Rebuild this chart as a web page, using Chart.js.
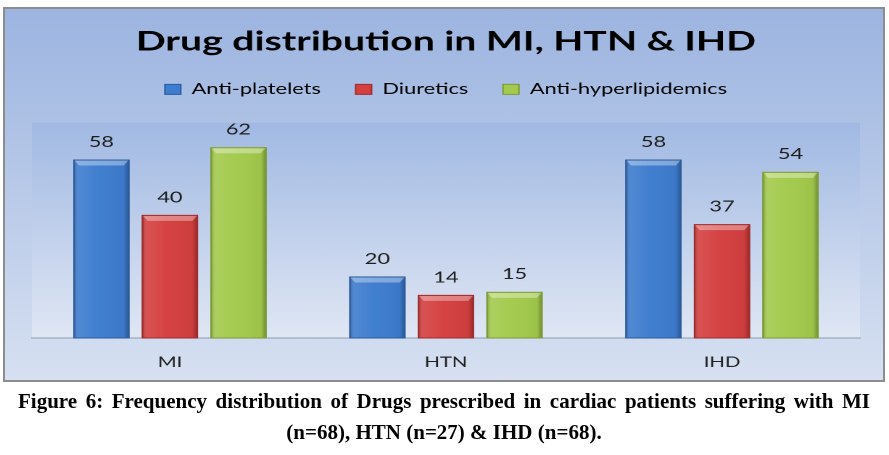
<!DOCTYPE html>
<html>
<head>
<meta charset="utf-8">
<script src="https://cdn.jsdelivr.net/npm/chart.js@4.4.1/dist/chart.umd.min.js"></script>
<style>
  html, body { margin: 0; padding: 0; background: #ffffff; }
  body { width: 889px; height: 455px; position: relative; overflow: hidden; }
  #box {
    position: absolute; left: 3px; top: 7px; width: 878px; height: 371px;
    border: 2px solid #8d8d8d;
    background: linear-gradient(to bottom, #9cb4e0 0%, #d6e0f1 100%);
  }
  #wrap {
    position: absolute; left: 0; top: 0; width: 613px; height: 390px;
    transform: scaleX(1.4502); transform-origin: 0 0;
  }
  .cap {
    position: absolute; left: 18px; width: 852px;
    font-family: "Liberation Serif", "Times New Roman", serif;
    font-weight: bold; font-size: 21px; color: #000; white-space: nowrap;
  }
  #cap1 { top: 389px; text-align: justify; text-align-last: justify; }
  #cap2 { top: 420px; text-align: center; }
</style>
</head>
<body>
<div id="box"></div>
<div id="wrap"><canvas id="c"></canvas></div>
<div class="cap" id="cap1">Figure 6: Frequency distribution of Drugs prescribed in cardiac patients suffering with MI</div>
<div class="cap" id="cap2">(n=68), HTN (n=27) &amp; IHD (n=68).</div>
<script>
const categories = ["MI", "HTN", "IHD"];
const seriesNames = ["Anti-platelets", "Diuretics", "Anti-hyperlipidemics"];
const antiPlatelets = [58, 20, 58];
const diuretics = [40, 14, 37];
const antiHyperlipidemics = [62, 15, 54];
const yMax = 70;

const fills = ["#3d7cce", "#d43f3f", "#a3ca4c"];
const edges = ["#2c5c9c", "#a02c2c", "#7b9c34"];

const bgPlugin = {
  id: 'bg',
  afterInit(chart) {
    const lg = chart.legend;
    if (lg && !lg._extraFit) {
      const orig = lg.fit.bind(lg);
      lg.fit = function () { orig(); this.height += 15.7; };
      lg._extraFit = true;
    }
  },
  beforeDraw(chart) {
    const { ctx, chartArea: a } = chart;
    const g = ctx.createLinearGradient(0, a.top, 0, a.bottom);
    g.addColorStop(0, '#a1b9e3');
    g.addColorStop(1, '#e0e7f4');
    ctx.save();
    ctx.fillStyle = g;
    ctx.fillRect(a.left, a.top, a.right - a.left, a.bottom - a.top);
    ctx.restore();
  }
};

const bevelPlugin = {
  id: 'bevel',
  afterDatasetsDraw(chart) {
    const ctx = chart.ctx;
    ctx.save();
    chart.data.datasets.forEach((ds, di) => {
      const meta = chart.getDatasetMeta(di);
      meta.data.forEach((el, i) => {
        const p = el.getProps(['x', 'y', 'base', 'width'], true);
        const l = p.x - p.width / 2, r = p.x + p.width / 2, t = p.y, b = p.base;
        const g = ctx.createLinearGradient(l, 0, r, 0);
        g.addColorStop(0, 'rgba(0,0,0,0.28)');
        g.addColorStop(0.09, 'rgba(255,255,255,0.10)');
        g.addColorStop(0.45, 'rgba(255,255,255,0.02)');
        g.addColorStop(0.9, 'rgba(0,0,0,0.04)');
        g.addColorStop(1, 'rgba(0,0,0,0.32)');
        ctx.fillStyle = g;
        ctx.fillRect(l, t, r - l, b - t);
        const bx = 4, by = 6;
        ctx.beginPath();
        ctx.moveTo(l, t); ctx.lineTo(r, t); ctx.lineTo(r - bx, t + by); ctx.lineTo(l + bx, t + by); ctx.closePath();
        ctx.fillStyle = 'rgba(255,255,255,0.35)';
        ctx.fill();
        ctx.strokeStyle = edges[di];
        ctx.lineWidth = 1;
        ctx.strokeRect(l + 0.5, t + 0.5, r - l - 1, b - t - 0.5);
        ctx.fillStyle = '#1e1e1e';
        ctx.font = '15px Lato';
        ctx.textAlign = 'center';
        ctx.textBaseline = 'middle';
        ctx.fillText(String(ds.data[i]), p.x, t - 17.5);
      });
    });
    ctx.restore();
  }
};

new Chart(document.getElementById('c'), {
  type: 'bar',
  data: {
    labels: categories,
    datasets: [
      { label: seriesNames[0], data: antiPlatelets, backgroundColor: fills[0] },
      { label: seriesNames[1], data: diuretics, backgroundColor: fills[1] },
      { label: seriesNames[2], data: antiHyperlipidemics, backgroundColor: fills[2] }
    ]
  },
  options: {
    responsive: true,
    maintainAspectRatio: false,
    animation: false,
    devicePixelRatio: 2,
    layout: { padding: { left: 22, right: 20, top: 0, bottom: 3.2 } },
    datasets: { bar: { categoryPercentage: 0.745, barPercentage: 0.82 } },
    scales: {
      x: {
        grid: { display: false, drawTicks: false, tickLength: 0 },
        border: { display: true, color: '#8f9aae', width: 1 },
        ticks: { color: '#222', font: { family: 'Lato', size: 14 }, padding: 16 }
      },
      y: { display: false, min: 0, max: yMax }
    },
    plugins: {
      title: {
        display: true,
        text: 'Drug distribution in MI, HTN & IHD',
        color: '#000',
        font: { family: 'Lato', size: 27, weight: 'bold' },
        padding: { top: 25.5, bottom: 0 }
      },
      legend: {
        display: true,
        position: 'top',
        labels: {
          color: '#1a1a1a',
          font: { family: 'Lato', size: 15 },
          boxWidth: 11, boxHeight: 10, padding: 24,
          generateLabels(chart) {
            return chart.data.datasets.map((d, i) => ({
              text: d.label, fillStyle: fills[i], strokeStyle: edges[i], lineWidth: 1,
              hidden: false, datasetIndex: i
            }));
          }
        }
      },
      tooltip: { enabled: false }
    }
  },
  plugins: [bgPlugin, bevelPlugin]
});
</script>
</body>
</html>
